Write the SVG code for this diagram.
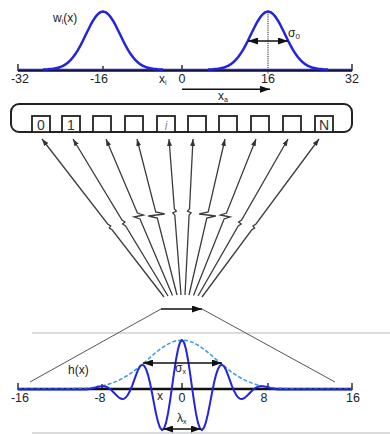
<svg xmlns="http://www.w3.org/2000/svg" width="390" height="434" viewBox="0 0 390 434">
<style>
text{font-family:"Liberation Sans",Arial,sans-serif;fill:#222}
.lbl{font-size:12px}
.tick{font-size:12.5px;text-anchor:middle}
.blue{fill:none;stroke:#2323e0;stroke-linejoin:round}
.axis{stroke:#111;stroke-width:2.5;fill:none}
.thin{stroke:#111;stroke-width:1.3;fill:none}
.fan{fill:none;stroke:#3c3c3c;stroke-width:1.3;stroke-linejoin:miter;marker-end:url(#ahs)}
.cell{fill:#fff;stroke:#222;stroke-width:1.8}
.celltxt{font-size:14px;text-anchor:middle;fill:#333}
.dbl{stroke:#111;stroke-width:1.4;fill:none;marker-start:url(#ah);marker-end:url(#ah)}
.gray{stroke:#cfcfcf;stroke-width:1.5}
</style>
<defs>
<marker id="ah" markerUnits="userSpaceOnUse" markerWidth="10" markerHeight="7" refX="10" refY="3.5" orient="auto-start-reverse"><path d="M0,0 L10,3.5 L0,7 z" fill="#111"/></marker>
<marker id="ahs" markerUnits="userSpaceOnUse" markerWidth="7" markerHeight="5" refX="7" refY="2.5" orient="auto"><path d="M0,0 L7,2.5 L0,5 z" fill="#333"/></marker>
<path id="gauss" d="M-60,0 L-55,-0.31 L-50,-0.77 L-47.5,-1.17 L-45,-1.75 L-42.5,-2.55 L-40,-3.64 L-37.5,-5.09 L-35,-6.97 L-32.5,-9.34 L-30,-12.2 L-27.5,-15.7 L-25,-19.7 L-22.5,-24.2 L-20,-29 L-17.5,-34.2 L-15,-39.3 L-12.5,-44.3 L-10,-48.8 L-7.5,-52.6 L-5,-55.55 L-2.5,-57.37 L0,-58 L2.5,-57.37 L5,-55.55 L7.5,-52.6 L10,-48.8 L12.5,-44.3 L15,-39.3 L17.5,-34.2 L20,-29 L22.5,-24.2 L25,-19.7 L27.5,-15.7 L30,-12.2 L32.5,-9.34 L35,-6.97 L37.5,-5.09 L40,-3.64 L42.5,-2.55 L45,-1.75 L47.5,-1.17 L50,-0.77 L55,-0.31 L60,0"/>
</defs>

<g id="top-plot">
  <line class="axis" x1="18" y1="70.5" x2="352" y2="70.5"/>
  <path class="thin" d="M18,64 V71 M182,65 V71 M352,64 V71 M103,66 V71"/>
  <line x1="268" y1="12" x2="268" y2="74" stroke="#222" stroke-width="1" stroke-dasharray="1.2 1"/>
  <line x1="18" y1="69.5" x2="352" y2="69.5" stroke="#2323e0" stroke-width="1.5"/>
  <use href="#gauss" transform="translate(103,69.5)" class="blue" stroke-width="2.5"/>
  <use href="#gauss" transform="translate(268,69.5)" class="blue" stroke-width="2.5"/>
  <line class="dbl" x1="248" y1="41" x2="288" y2="41"/>
  <text class="lbl" x="288" y="37">σ<tspan font-size="8" dy="2">0</tspan></text>
  <text class="lbl" x="53" y="22">w<tspan font-size="7" dy="2">i</tspan><tspan dy="-2">(x)</tspan></text>
  <text class="tick" x="20" y="83">-32</text>
  <text class="tick" x="99" y="83">-16</text>
  <text class="lbl" x="159" y="83">x<tspan font-size="7" dy="2">i</tspan></text>
  <text class="tick" x="182" y="83">0</text>
  <text class="tick" x="268" y="83">16</text>
  <text class="tick" x="352" y="83">32</text>
  <line x1="182" y1="89.3" x2="270" y2="89.3" stroke="#111" stroke-width="1.4" marker-end="url(#ah)"/>
  <text class="lbl" x="218" y="100">x<tspan font-size="7" dy="2">a</tspan></text>
</g>

<g id="register">
  <rect x="11" y="104" width="341" height="28" rx="8" fill="none" stroke="#222" stroke-width="2"/>
  <g id="cell-0"><rect class="cell" x="32" y="116" width="18" height="16"/><text class="celltxt" x="41" y="130">0</text></g>
  <g id="cell-1"><rect class="cell" x="62" y="116" width="18" height="16"/><text class="celltxt" x="71" y="130">1</text></g>
  <g id="cell-2"><rect class="cell" x="93" y="116" width="18" height="16"/></g>
  <g id="cell-3"><rect class="cell" x="125" y="116" width="18" height="16"/></g>
  <g id="cell-i"><rect class="cell" x="157" y="116" width="18" height="16"/><text class="celltxt" x="166" y="130" font-style="italic" style="fill:#8a8a8a;font-size:12px">i</text></g>
  <g id="cell-5"><rect class="cell" x="188" y="116" width="18" height="16"/></g>
  <g id="cell-6"><rect class="cell" x="219" y="116" width="18" height="16"/></g>
  <g id="cell-7"><rect class="cell" x="251" y="116" width="18" height="16"/></g>
  <g id="cell-8"><rect class="cell" x="283" y="116" width="18" height="16"/></g>
  <g id="cell-N"><rect class="cell" x="315" y="116" width="18" height="16"/><text class="celltxt" x="324" y="130">N</text></g>
</g>

<g id="connectors">
  <path class="fan" d="M164,297 L112.3,230 L109.3,228 L110.7,226 L107.7,224 L42,139"/>
  <path class="fan" d="M168,296 L125.6,226 L122.6,224 L125,222 L122,220 L73,139"/>
  <path class="fan" d="M172.5,295.5 L140,219 L134,217 L143.4,215 L137.4,213 L106,139"/>
  <path class="fan" d="M177,295 L157.3,218 L148.3,216 L164.7,214 L155.7,212 L137,139"/>
  <path class="fan" d="M181,295 L174.8,215 L172.8,213 L176.4,211 L174.4,209 L169,139"/>
  <path class="fan" d="M185,295 L189.1,215 L191.1,213 L187.5,211 L189.5,209 L193,139"/>
  <path class="fan" d="M189,295 L206.8,218 L215.8,216 L199.2,214 L208.2,212 L225,139"/>
  <path class="fan" d="M193.5,295.5 L224.1,219 L230.1,217 L220.5,215 L226.5,213 L256,139"/>
  <path class="fan" d="M198,296 L238.2,226 L241.2,224 L238.6,222 L241.6,220 L288,139"/>
  <path class="fan" d="M202,297 L251.6,230 L254.6,228 L253,226 L256,224 L319,139"/>
</g>

<g id="bottom-plot">
  <line class="gray" x1="32" y1="333" x2="390" y2="333"/>
  <line class="gray" x1="32" y1="433" x2="390" y2="433"/>
  <path d="M30,382 L161,309 M202,309 L335,382" fill="none" stroke="#555" stroke-width="1"/>
  <line x1="161" y1="309" x2="202" y2="309" stroke="#111" stroke-width="1.5" marker-end="url(#ah)"/>
  <line class="axis" x1="18" y1="389" x2="352" y2="389" stroke-width="2.2"/>
  <path class="thin" d="M18,383 V390 M102,384 V390 M182,383 V390 M268,383 V390 M352,383 V390"/>
  <path d="M18,389 L67,389 L82,388.3 L87,388 L92,387.5 L97,386.85 L102,385.9 L107,384.7 L112,383.1 L117,381.12 L122,378.7 L127,375.76 L132,372.4 L137,368.6 L142,364.5 L147,360.15 L152,355.8 L157,351.6 L162,347.8 L167,344.54 L172,342.1 L177,340.52 L182,340 L187,340.52 L192,342.1 L197,344.54 L202,347.8 L207,351.6 L212,355.8 L217,360.15 L222,364.5 L227,368.6 L232,372.4 L237,375.76 L242,378.7 L247,381.12 L252,383.1 L257,384.7 L262,385.9 L267,386.85 L272,387.5 L277,388 L282,388.3 L297,389 L352,389" fill="none" stroke="#3b9ae0" stroke-width="1.5" stroke-dasharray="4 2"/>
  <path class="blue" stroke-width="2" d="M18,389.6 L72,389.6 L82,389.6 L86,389.49 L90,388.95 L94,387.96 L98,386.79 L102,386.13 L104,386.23 L106,386.71 L108,387.61 L110,389 L112,390.74 L114,392.73 L116,394.81 L118,396.75 L120,398.28 L122,399.03 L124,398.74 L126,397.28 L128,394.57 L130,390.75 L132,386.04 L134,380.57 L136,375.04 L138,369.9 L140,366.22 L142,364.76 L144,365.58 L146,368.93 L148,374.82 L150,382.99 L152,392.79 L154,403.41 L156,413.44 L158,421.87 L160,427.7 L162,430.1 L164,428.53 L166,422.88 L168,413.43 L170,401.21 L172,387.2 L174,372.93 L176,359.72 L178,349.2 L180,342.37 L182,340 L184,342.37 L186,349.2 L188,359.72 L190,372.93 L192,387.2 L194,401.21 L196,413.43 L198,422.88 L200,428.53 L202,430.1 L204,427.7 L206,421.87 L208,413.44 L210,403.41 L212,392.79 L214,382.99 L216,374.82 L218,368.93 L220,365.58 L222,364.76 L224,366.22 L226,369.9 L228,375.04 L230,380.57 L232,386.04 L234,390.75 L236,394.57 L238,397.28 L240,398.74 L242,399.03 L244,398.28 L246,396.75 L248,394.81 L250,392.73 L252,390.74 L254,389 L256,387.61 L258,386.71 L260,386.23 L262,386.13 L266,386.79 L270,387.96 L274,388.95 L278,389.49 L282,389.6 L352,389.6"/>
  <line class="dbl" x1="143" y1="363" x2="222" y2="363"/>
  <line class="dbl" x1="163" y1="429" x2="201" y2="429"/>
  <text class="lbl" x="68" y="374" font-size="12.5">h(x)</text>
  <text class="lbl" x="175" y="372">σ<tspan font-size="7" dy="2">x</tspan></text>
  <text class="lbl" x="177" y="422">λ<tspan font-size="7" dy="2">x</tspan></text>
  <text class="lbl" x="157" y="400">x</text>
  <text class="tick" x="20" y="402">-16</text>
  <text class="tick" x="100" y="402">-8</text>
  <text class="tick" x="182" y="402">0</text>
  <text class="tick" x="264" y="402">8</text>
  <text class="tick" x="353" y="402">16</text>
</g>
</svg>
